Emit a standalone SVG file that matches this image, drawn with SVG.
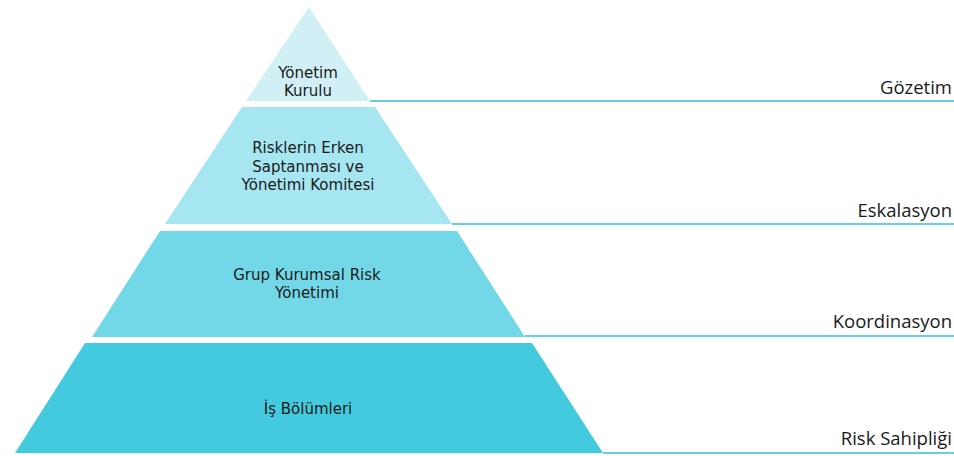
<svg xmlns="http://www.w3.org/2000/svg" width="954" height="456" viewBox="0 0 954 456">
<style>
.t{font-family:"DejaVu Sans","Open Sans",sans-serif;font-size:15px;fill:#1a1a1a;text-anchor:middle}
.r{font-family:"Open Sans","Liberation Sans",sans-serif;font-size:18.5px;fill:#1a1a1a;text-anchor:end}
.ln{stroke:#33bfd9;stroke-width:1.5;fill:none}
</style>
<rect width="954" height="456" fill="#ffffff"/>
<g id="tier1">
<polygon points="309,7 370,101 246,101" fill="#d0f0f6"/>
<text class="t" x="308" y="78">Yönetim</text>
<text class="t" x="308" y="96">Kurulu</text>
</g>
<g id="tier2">
<polygon points="242,107 375,107 452,224 165,224" fill="#a5e6f1"/>
<text class="t" x="308" y="153">Risklerin Erken</text>
<text class="t" x="308" y="171.5">Saptanması ve</text>
<text class="t" x="308" y="190">Yönetimi Komitesi</text>
</g>
<g id="tier3">
<polygon points="160,231 457,231 525,337 92,337" fill="#72d8e8"/>
<text class="t" x="307" y="280">Grup Kurumsal Risk</text>
<text class="t" x="307" y="298">Yönetimi</text>
</g>
<g id="tier4">
<polygon points="85,343 532,343 603,453 15,453" fill="#44cadf"/>
<text class="t" x="308" y="414">İş Bölümleri</text>
</g>
<g id="connectors">
<line class="ln" x1="370" y1="101" x2="954" y2="101"/>
<line class="ln" x1="452" y1="224" x2="954" y2="224"/>
<line class="ln" x1="525" y1="336" x2="954" y2="336"/>
<line class="ln" x1="603" y1="453" x2="954" y2="453"/>
</g>
<g id="labels">
<text class="r" x="952" y="94">Gözetim</text>
<text class="r" x="952" y="217">Eskalasyon</text>
<text class="r" x="952" y="328">Koordinasyon</text>
<text class="r" x="952" y="445">Risk Sahipliği</text>
</g>
</svg>
